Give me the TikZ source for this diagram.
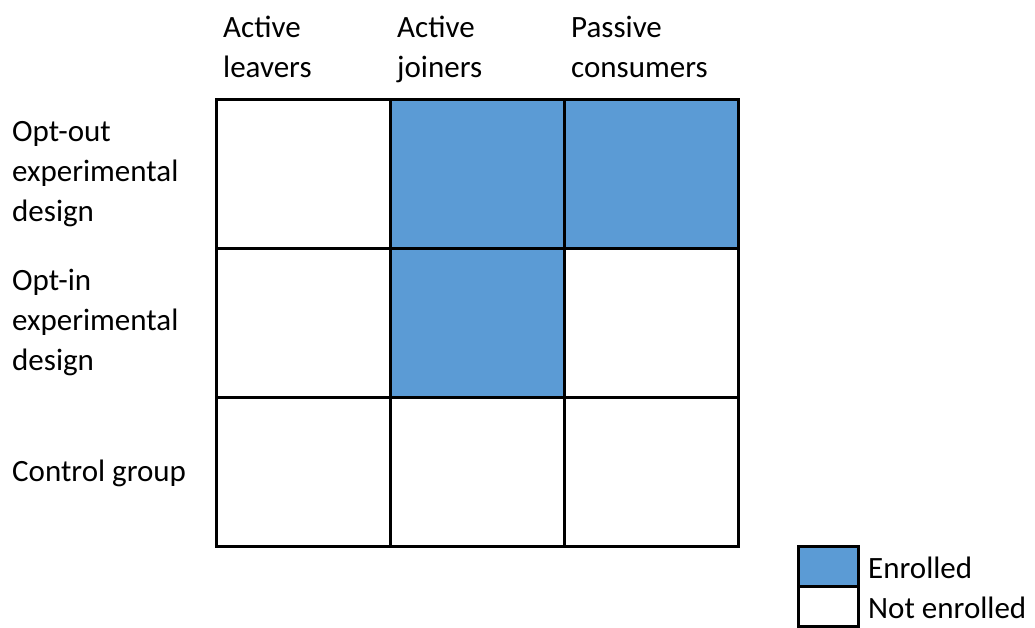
\documentclass[tikz,border=0pt]{standalone}
\usepackage{fontspec}
\setmainfont{Carlito}
\definecolor{enrolled}{HTML}{5B9BD5}
\begin{document}
\begin{tikzpicture}[x=1pt,y=-1pt,
  cell/.style={draw=black,line width=3pt,minimum width=174pt,minimum height=149pt,inner sep=0pt,outer sep=0pt},
  keybox/.style={draw=black,line width=3pt,minimum width=60pt,minimum height=40pt,inner sep=0pt,outer sep=0pt},
  lbl/.style={anchor=base west,inner sep=0pt,font=\fontsize{31}{40}\selectfont,align=left},
  on/.style={fill=enrolled}]
\useasboundingbox (0,0) rectangle (1035,627);
% grid cells, row by row
\node[cell]      (c11) at (303,173.5) {};
\node[cell,on]   (c12) at (477,173.5) {};
\node[cell,on]   (c13) at (651,173.5) {};
\node[cell]      (c21) at (303,323) {};
\node[cell,on]   (c22) at (477,323) {};
\node[cell]      (c23) at (651,323) {};
\node[cell]      (c31) at (303,472) {};
\node[cell]      (c32) at (477,472) {};
\node[cell]      (c33) at (651,472) {};
% column headings (placed by the baseline of their last line)
\node[lbl] (h1) at (223,77) {Active\\leavers};
\node[lbl] (h2) at (397,77) {Active\\joiners};
\node[lbl] (h3) at (571,77) {Passive\\consumers};
% row headings
\node[lbl] (r1) at (12,221) {Opt-out\\experimental\\design};
\node[lbl] (r2) at (12,370) {Opt-in\\experimental\\design};
\node[lbl] (r3) at (12,481) {Control group};
% key
\node[keybox,on] (k1) at (828,566) {};
\node[keybox]    (k2) at (828,606) {};
\node[lbl] (t1) at (868,578) {Enrolled};
\node[lbl] (t2) at (868,618) {Not enrolled};
\end{tikzpicture}
\end{document}
